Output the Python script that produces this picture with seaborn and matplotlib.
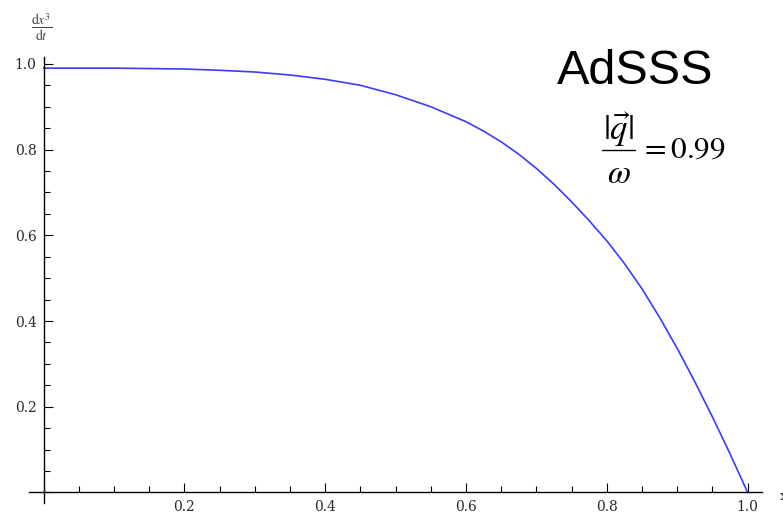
import numpy as np
import pandas as pd
import matplotlib
matplotlib.use("Agg")
import matplotlib.pyplot as plt
from matplotlib.lines import Line2D
import seaborn as sns
from matplotlib.ticker import MultipleLocator, FixedLocator

# Curve samples: ratio x versus dx^3/dt
x_vals = [0.0, 0.05, 0.10, 0.15, 0.20, 0.25, 0.30, 0.35, 0.40, 0.45,
          0.50, 0.55, 0.60, 0.625, 0.65, 0.675, 0.70, 0.725, 0.75, 0.775,
          0.80, 0.825, 0.85, 0.875, 0.90, 0.925, 0.95, 0.975, 1.0]
y_vals = [0.990, 0.990, 0.990, 0.989, 0.988, 0.985, 0.981, 0.974, 0.964, 0.950,
          0.928, 0.900, 0.865, 0.843, 0.818, 0.789, 0.756, 0.719, 0.678, 0.634,
          0.587, 0.534, 0.475, 0.408, 0.336, 0.258, 0.176, 0.090, 0.0]

x_ticks = [0.2, 0.4, 0.6, 0.8, 1.0]
y_ticks = [0.2, 0.4, 0.6, 0.8, 1.0]
tick_labels = ["0.2", "0.4", "0.6", "0.8", "1.0"]

df = pd.DataFrame({"x": x_vals, "y": y_vals})

sns.set_style("white")
plt.rcParams["font.family"] = ["DejaVu Serif"]
plt.rcParams["mathtext.fontset"] = "stix"

W, H = 783, 517
fig = plt.figure(figsize=(W / 100, H / 100), dpi=100)
ax = fig.add_axes([29 / W, 14 / H, (761.7 - 29) / W, (503 - 57) / H])

sns.lineplot(data=df, x="x", y="y", ax=ax, color="#3b3bff", linewidth=1.2)

ax.set_xlim(-0.0206, 1.0199)
ax.set_ylim(-0.0245, 1.016)

for side in ("top", "right"):
    ax.spines[side].set_visible(False)
for side in ("left", "bottom"):
    ax.spines[side].set_position(("data", 0))
    ax.spines[side].set_color("black")
    ax.spines[side].set_linewidth(1.0)

ax.xaxis.set_major_locator(FixedLocator(x_ticks))
ax.yaxis.set_major_locator(FixedLocator(y_ticks))
ax.xaxis.set_minor_locator(MultipleLocator(0.05))
ax.yaxis.set_minor_locator(MultipleLocator(0.05))
ax.set_xticklabels(tick_labels)
ax.set_yticklabels(tick_labels)

ax.tick_params(which="both", direction="in", color="black", width=0.8,
               bottom=True, left=True, top=False, right=False)
ax.tick_params(which="major", length=6.5, labelsize=10, labelcolor="#2a2a2a")
ax.tick_params(which="minor", length=4)
ax.tick_params(axis="x", which="major", pad=5.5)
ax.tick_params(axis="y", which="major", pad=5)

ax.set_xlabel("")
ax.set_ylabel("")
ax.grid(False)
ax.patch.set_alpha(0)

# Axis captions
fig.text(42 / W, 1 - 27 / H, r"$\dfrac{\mathrm{d}x^3}{\mathrm{d}t}$",
         ha="center", va="center", fontsize=10, color="#444444")
fig.text(780 / W, 1 - 497 / H, "x", ha="left", va="center",
         fontsize=9.5, color="#2a2a2a")

# Annotation: title and |q|/omega = 0.99 built as a stacked fraction
fig.text(557 / W, 1 - 84 / H, "AdSSS", ha="left", va="baseline",
         fontsize=35, family="Liberation Sans", color="black")
fig.text(618.5 / W, 1 - 130 / H, r"$|\vec{q}|$", ha="center", va="center",
         fontsize=25, color="black")
fig.add_artist(Line2D([602 / W, 635 / W], [1 - 149.5 / H, 1 - 149.5 / H],
                      transform=fig.transFigure, color="black", linewidth=1.0))
fig.text(618.5 / W, 1 - 183 / H, r"$\omega$", ha="center", va="baseline",
         fontsize=24, color="black")
fig.text(640 / W, 1 - 158 / H, r"$=0.99$", ha="left", va="baseline",
         fontsize=22.5, color="black")

fig.savefig("out.png", dpi=100)
